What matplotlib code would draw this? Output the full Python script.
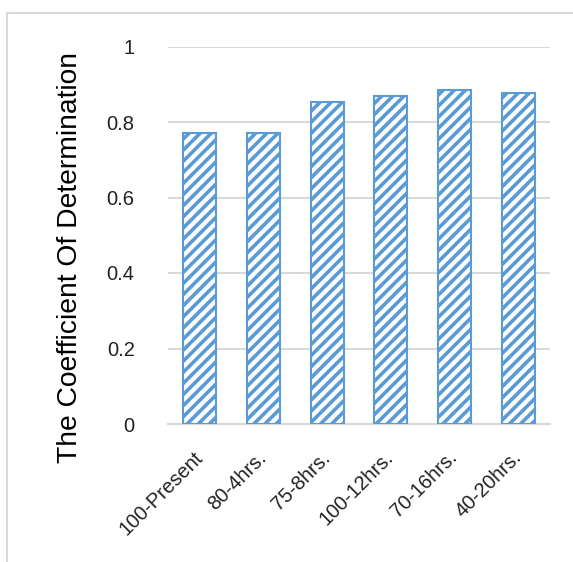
import matplotlib
matplotlib.use("Agg")
import matplotlib.pyplot as plt
from matplotlib.patches import Rectangle

plt.rcParams['font.family'] = ['Liberation Sans', 'DejaVu Sans']
plt.rcParams['hatch.linewidth'] = 2.6
plt.rcParams['hatch.color'] = '#5B9BD5'

groups = ['100-Present', '80-4hrs.', '75-8hrs.', '100-12hrs.', '70-16hrs.', '40-20hrs.']
r2 = [0.770, 0.770, 0.852, 0.868, 0.884, 0.878]
yticks = [0, 0.2, 0.4, 0.6, 0.8, 1]
ytick_labels = ['0', '0.2', '0.4', '0.6', '0.8', '1']

fig = plt.figure(figsize=(5.73, 5.62), dpi=100)
# light chart-area frame
fig.patches.append(Rectangle((6.5 / 573, -0.1), 1.2, 1 - 12.5 / 562 + 0.1,
                             transform=fig.transFigure, fill=False,
                             edgecolor='#D9D9D9', linewidth=1.5))

ax = fig.add_axes([168 / 573, 1 - 424 / 562, 382 / 573, 377.5 / 562])
x = list(range(len(groups)))
ax.bar(x, r2, width=0.52, facecolor='white', edgecolor='#5B9BD5',
       linewidth=1.5, hatch='///', zorder=3)

ax.set_xlim(-0.5, len(groups) - 0.5)
ax.set_ylim(0, 1)
ax.set_yticks(yticks)
ax.set_yticklabels(ytick_labels, fontsize=14.5, color='#222222')
ax.set_xticks(x)
ax.set_xticklabels(groups, fontsize=14.5, rotation=45, ha='right', va='center',
                   rotation_mode='anchor', color='#222222')
ax.tick_params(axis='y', length=0, pad=24)
ax.tick_params(axis='x', length=0, pad=22)
ax.grid(axis='y', color='#D9D9D9', linewidth=1.5, zorder=0)
for side in ['top', 'right', 'left']:
    ax.spines[side].set_visible(False)
ax.spines['bottom'].set_color('#D9D9D9')
ax.spines['bottom'].set_linewidth(1.5)
ax.set_ylabel('The Coefficient Of Determination', fontsize=20.3)
ax.yaxis.set_label_coords(-0.222, 0.44)

fig.savefig('out.png', dpi=100)
